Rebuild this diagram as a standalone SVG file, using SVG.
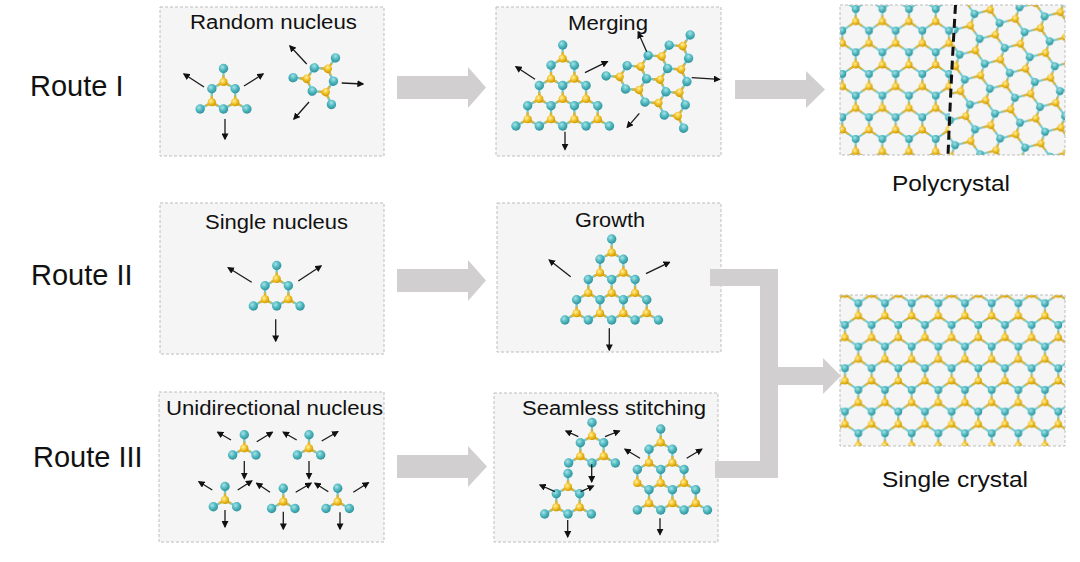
<svg xmlns="http://www.w3.org/2000/svg" width="1080" height="562" viewBox="0 0 1080 562">
<style>
.box{fill:#f5f5f5;stroke:#bdbdbd;stroke-width:1;stroke-dasharray:3 2}
.edge{fill:none;stroke:#bdbdbd;stroke-width:1;stroke-dasharray:3 2}
.bt{stroke:#72cad1;stroke-width:2.3;fill:none}
.by{stroke:#e2b22f;stroke-width:2.3;fill:none}
.cbt{stroke:#72cad1;stroke-width:2.1;fill:none}
.cby{stroke:#e2b22f;stroke-width:2.1;fill:none}
.ar{stroke:#1a1a1a;stroke-width:1.3;fill:none;marker-end:url(#ah)}
.fat{fill:#d1cfcf}
.tt{font-family:"Liberation Sans",Arial,sans-serif;font-size:20px;fill:#111}
.lb{font-family:"Liberation Sans",Arial,sans-serif;font-size:22px;fill:#111}
.rt{font-family:"Liberation Sans",Arial,sans-serif;font-size:29px;fill:#111}
</style>
<defs>
<radialGradient id="gT" cx="0.38" cy="0.35" r="0.7"><stop offset="0" stop-color="#a6e3e6"/><stop offset="0.5" stop-color="#4fb8c0"/><stop offset="1" stop-color="#2e8e97"/></radialGradient>
<radialGradient id="gY" cx="0.38" cy="0.35" r="0.7"><stop offset="0" stop-color="#fff1a6"/><stop offset="0.5" stop-color="#f3c227"/><stop offset="1" stop-color="#c89600"/></radialGradient>
<marker id="ah" viewBox="0 0 10 10" refX="8" refY="5" markerWidth="7" markerHeight="7" markerUnits="userSpaceOnUse" orient="auto"><path d="M0,0L10,5L0,10z" fill="#111"/></marker>
<g id="y3"><path class="bt" d="M0,0V-13.5M0,0L-11.69,6.75M0,0L11.69,6.75"/><path class="by" d="M0,0V-6.75M0,0L-5.85,3.38M0,0L5.85,3.38"/><circle r="4.1" fill="url(#gY)"/></g>
<circle id="t" r="4.7" fill="url(#gT)"/>
<g id="nuc">
<use href="#y3" x="0" y="-13.5"/><use href="#y3" x="-11.69" y="6.75"/><use href="#y3" x="11.69" y="6.75"/>
<use href="#t" x="0" y="-27"/><use href="#t" x="-11.69" y="-6.75"/><use href="#t" x="11.69" y="-6.75"/><use href="#t" x="0" y="13.5"/><use href="#t" x="-23.38" y="13.5"/><use href="#t" x="23.38" y="13.5"/>
</g>
<g id="u3"><use href="#y3"/><use href="#t" y="-13.5"/><use href="#t" x="-11.69" y="6.75"/><use href="#t" x="11.69" y="6.75"/></g>
<g id="tri3">
<use href="#y3" x="0" y="-40.5"/>
<use href="#y3" x="-11.69" y="-20.25"/><use href="#y3" x="11.69" y="-20.25"/>
<use href="#y3" x="-23.38" y="0"/><use href="#y3" x="0" y="0"/><use href="#y3" x="23.38" y="0"/>
<use href="#y3" x="-35.07" y="20.25"/><use href="#y3" x="-11.69" y="20.25"/><use href="#y3" x="11.69" y="20.25"/><use href="#y3" x="35.07" y="20.25"/>
<use href="#t" x="0" y="-54"/>
<use href="#t" x="-11.69" y="-33.75"/><use href="#t" x="11.69" y="-33.75"/>
<use href="#t" x="-23.38" y="-13.5"/><use href="#t" x="0" y="-13.5"/><use href="#t" x="23.38" y="-13.5"/>
<use href="#t" x="-35.07" y="6.75"/><use href="#t" x="-11.69" y="6.75"/><use href="#t" x="11.69" y="6.75"/><use href="#t" x="35.07" y="6.75"/>
<use href="#t" x="-46.77" y="27"/><use href="#t" x="-23.38" y="27"/><use href="#t" x="0" y="27"/><use href="#t" x="23.38" y="27"/><use href="#t" x="46.77" y="27"/>
</g>
<g id="tri3b">
<use href="#y3" x="0" y="-40.5"/>
<use href="#y3" x="-11.69" y="-20.25"/><use href="#y3" x="11.69" y="-20.25"/>
<g transform="translate(-23.38,0)"><path class="bt" d="M0,0V-13.5M0,0L11.69,6.75"/><path class="by" d="M0,0V-6.75M0,0L5.85,3.38"/><circle r="4.1" fill="url(#gY)"/></g>
<use href="#y3" x="0" y="0"/><use href="#y3" x="23.38" y="0"/>
<use href="#y3" x="-11.69" y="20.25"/><use href="#y3" x="11.69" y="20.25"/><use href="#y3" x="35.07" y="20.25"/>
<use href="#t" x="0" y="-54"/>
<use href="#t" x="-11.69" y="-33.75"/><use href="#t" x="11.69" y="-33.75"/>
<use href="#t" x="-23.38" y="-13.5"/><use href="#t" x="0" y="-13.5"/><use href="#t" x="23.38" y="-13.5"/>
<use href="#t" x="-11.69" y="6.75"/><use href="#t" x="11.69" y="6.75"/><use href="#t" x="35.07" y="6.75"/>
<use href="#t" x="-23.38" y="27"/><use href="#t" x="0" y="27"/><use href="#t" x="23.38" y="27"/><use href="#t" x="46.77" y="27"/>
</g>
<g id="cb">
<path class="cbt" d="M6.67,5V17.5M6.67,17.5L20,26.67M6.67,17.5L-6.67,26.67M20,26.67V39.17M20,39.17L6.67,48.33M20,39.17L33.33,48.33"/>
<path class="cby" d="M6.67,17.5V11.25M6.67,17.5L13.33,22.08M6.67,17.5L0,22.08M20,39.17V32.92M20,39.17L13.33,43.75M20,39.17L26.67,43.75"/>
</g>
<g id="ca">
<circle cx="6.67" cy="5" r="3.9" fill="url(#gT)"/><circle cx="20" cy="26.67" r="3.9" fill="url(#gT)"/>
<circle cx="6.67" cy="17.5" r="3.6" fill="url(#gY)"/><circle cx="20" cy="39.17" r="3.6" fill="url(#gY)"/>
</g>
<pattern id="pc1" patternUnits="userSpaceOnUse" x="851.63" y="298.3" width="26.67" height="43.33">
<use href="#cb" x="-26.67" y="-43.33"/><use href="#cb" y="-43.33"/><use href="#cb" x="26.67" y="-43.33"/>
<use href="#cb" x="-26.67"/><use href="#cb"/><use href="#cb" x="26.67"/>
<use href="#cb" x="-26.67" y="43.33"/><use href="#cb" y="43.33"/><use href="#cb" x="26.67" y="43.33"/>
<use href="#ca"/>
</pattern>
<pattern id="pc2" patternUnits="userSpaceOnUse" x="849" y="4" width="26.67" height="43.33">
<use href="#cb" x="-26.67" y="-43.33"/><use href="#cb" y="-43.33"/><use href="#cb" x="26.67" y="-43.33"/>
<use href="#cb" x="-26.67"/><use href="#cb"/><use href="#cb" x="26.67"/>
<use href="#cb" x="-26.67" y="43.33"/><use href="#cb" y="43.33"/><use href="#cb" x="26.67" y="43.33"/>
<use href="#ca"/>
</pattern>
<pattern id="pc3" patternUnits="userSpaceOnUse" x="0" y="0" width="26.67" height="43.33" patternTransform="rotate(20 1000 80)">
<use href="#cb" x="-26.67" y="-43.33"/><use href="#cb" y="-43.33"/><use href="#cb" x="26.67" y="-43.33"/>
<use href="#cb" x="-26.67"/><use href="#cb"/><use href="#cb" x="26.67"/>
<use href="#cb" x="-26.67" y="43.33"/><use href="#cb" y="43.33"/><use href="#cb" x="26.67" y="43.33"/>
<use href="#ca"/>
</pattern>
<clipPath id="cl"><path d="M840,5H955.5Q951,80 948,155H840z"/></clipPath>
<clipPath id="cr"><path d="M955.5,5H1065V155H948Q951,80 955.5,5z"/></clipPath>
<clipPath id="cs"><rect x="840" y="295" width="225" height="151"/></clipPath>
</defs>

<g id="labels">
<text class="rt" x="30" y="96">Route I</text>
<text class="rt" x="31" y="285">Route II</text>
<text class="rt" x="33" y="467">Route III</text>
</g>

<g id="random-nucleus">
<rect class="box" x="160" y="7" width="224" height="149"/>
<text class="tt" x="190" y="29" textLength="167" lengthAdjust="spacingAndGlyphs">Random nucleus</text>
<use href="#nuc" transform="translate(223.5,95.5)"/>
<use href="#nuc" transform="translate(320,80) rotate(35)"/>
<path class="ar" d="M204,87L184,74"/><path class="ar" d="M244,86L263,74"/><path class="ar" d="M225,119V139"/>
<path class="ar" d="M306.7,64L290,46"/><path class="ar" d="M341.7,83L363,84"/><path class="ar" d="M309,102L294,119"/>
</g>

<g id="merging">
<rect class="box" x="496" y="7" width="225" height="149"/>
<text class="tt" x="568" y="30" textLength="80" lengthAdjust="spacingAndGlyphs">Merging</text>
<use href="#tri3" transform="translate(562.7,99)"/>
<use href="#tri3" transform="translate(660,79.7) rotate(34)"/>
<path class="ar" d="M535,79.3L516,66.7"/><path class="ar" d="M585,72.7L607.3,61.7"/><path class="ar" d="M565,131.7V149.3"/>
<path class="ar" d="M646.7,51.7L638.3,32.7"/><path class="ar" d="M691.7,77.7L719.3,79.3"/><path class="ar" d="M639.3,113.3L627.3,127.3"/>
</g>

<g id="polycrystal">
<rect x="840" y="5" width="225" height="150" fill="#f5f5f5"/>
<rect x="840" y="5" width="225" height="150" fill="url(#pc2)" clip-path="url(#cl)"/>
<rect x="840" y="5" width="225" height="150" fill="url(#pc3)" clip-path="url(#cr)"/>
<rect class="edge" x="840" y="5" width="225" height="150"/>
<path d="M955.5,5Q951,80 948,156" fill="none" stroke="#111" stroke-width="3" stroke-dasharray="9 5"/>
<text class="lb" x="892" y="191" textLength="118" lengthAdjust="spacingAndGlyphs">Polycrystal</text>
</g>

<g id="single-nucleus">
<rect class="box" x="160" y="203" width="224" height="151"/>
<text class="tt" x="205" y="229" textLength="143" lengthAdjust="spacingAndGlyphs">Single nucleus</text>
<use href="#nuc" transform="translate(276.7,292.5)"/>
<path class="ar" d="M251.7,282.3L228.3,267.7"/><path class="ar" d="M298.3,281L321,266"/><path class="ar" d="M275.7,319.3V341"/>
</g>

<g id="growth">
<rect class="box" x="497" y="203" width="224" height="149"/>
<text class="tt" x="575" y="227" textLength="70" lengthAdjust="spacingAndGlyphs">Growth</text>
<use href="#tri3" transform="translate(611.7,293)"/>
<path class="ar" d="M570.7,276.7L549.3,260"/><path class="ar" d="M646,273.7L669.3,262.3"/><path class="ar" d="M609.3,328.3V350"/>
</g>

<g id="unidirectional-nucleus">
<rect class="box" x="159" y="392" width="225" height="150"/>
<text class="tt" x="166" y="415" textLength="217" lengthAdjust="spacingAndGlyphs">Unidirectional nucleus</text>
<use href="#u3" x="244.3" y="448.3"/><use href="#u3" x="309" y="448.3"/>
<use href="#u3" x="225" y="500"/><use href="#u3" x="283.3" y="501.7"/><use href="#u3" x="337.7" y="501.7"/>
<path class="ar" d="M231,440L217.7,432.3"/><path class="ar" d="M256.7,441.7L272.3,432.3"/><path class="ar" d="M244.3,461V478.3"/>
<path class="ar" d="M296.7,440L283.3,432.3"/><path class="ar" d="M321.7,441L337.7,431.7"/><path class="ar" d="M309,461V478.3"/>
<path class="ar" d="M212.3,490L199,481.7"/><path class="ar" d="M237.7,490L251.7,481"/><path class="ar" d="M225,510V526.7"/>
<path class="ar" d="M270,492.3L256.7,483.3"/><path class="ar" d="M295.7,492.3L311,483.3"/><path class="ar" d="M283.3,511.7V529"/>
<path class="ar" d="M328.3,491.7L315,483.3"/><path class="ar" d="M353.3,492.3L368.3,482.7"/><path class="ar" d="M340,512.3V529"/>
</g>

<g id="seamless-stitching">
<rect class="box" x="494" y="393" width="224" height="149"/>
<text class="tt" x="522" y="415" textLength="184" lengthAdjust="spacingAndGlyphs">Seamless stitching</text>
<use href="#nuc" transform="translate(592,449.5)"/>
<use href="#nuc" transform="translate(568,500.5)"/>
<use href="#tri3b" transform="translate(660.7,483)"/>
<path class="ar" d="M578.3,436.7L566,431"/><path class="ar" d="M605,436.7L619.3,431"/><path class="ar" d="M591.7,464.3V481.7"/>
<path class="ar" d="M555,491.7L540,485"/><path class="ar" d="M580.7,491.7L593.3,486"/><path class="ar" d="M567.7,520V536.7"/>
<path class="ar" d="M640,458.3L625,449.3"/><path class="ar" d="M686.7,458.3L701.7,449.3"/><path class="ar" d="M660,518.3V534.3"/>
</g>

<g id="single-crystal">
<rect x="840" y="295" width="225" height="151" fill="#f5f5f5"/>
<rect x="840" y="295" width="225" height="151" fill="url(#pc1)" clip-path="url(#cs)"/>
<rect class="edge" x="840" y="295" width="225" height="151"/>
<text class="lb" x="882" y="487" textLength="146" lengthAdjust="spacingAndGlyphs">Single crystal</text>
</g>

<g id="connectors">
<polygon class="fat" points="397,76 468,76 468,67 486,87.5 468,108 468,99 397,99"/>
<polygon class="fat" points="735,80 806,80 806,71 825,89.5 806,108 806,99 735,99"/>
<polygon class="fat" points="397,269 468,269 468,260 486,280.5 468,301 468,292 397,292"/>
<polygon class="fat" points="397,455 468,455 468,446 487,466.5 468,487 468,478 397,478"/>
<polygon class="fat" points="710,269 778,269 778,367 823,367 823,358 841,376 823,394 823,385 778,385 778,478 715,478 715,461 760,461 760,286 710,286"/>
</g>
</svg>
